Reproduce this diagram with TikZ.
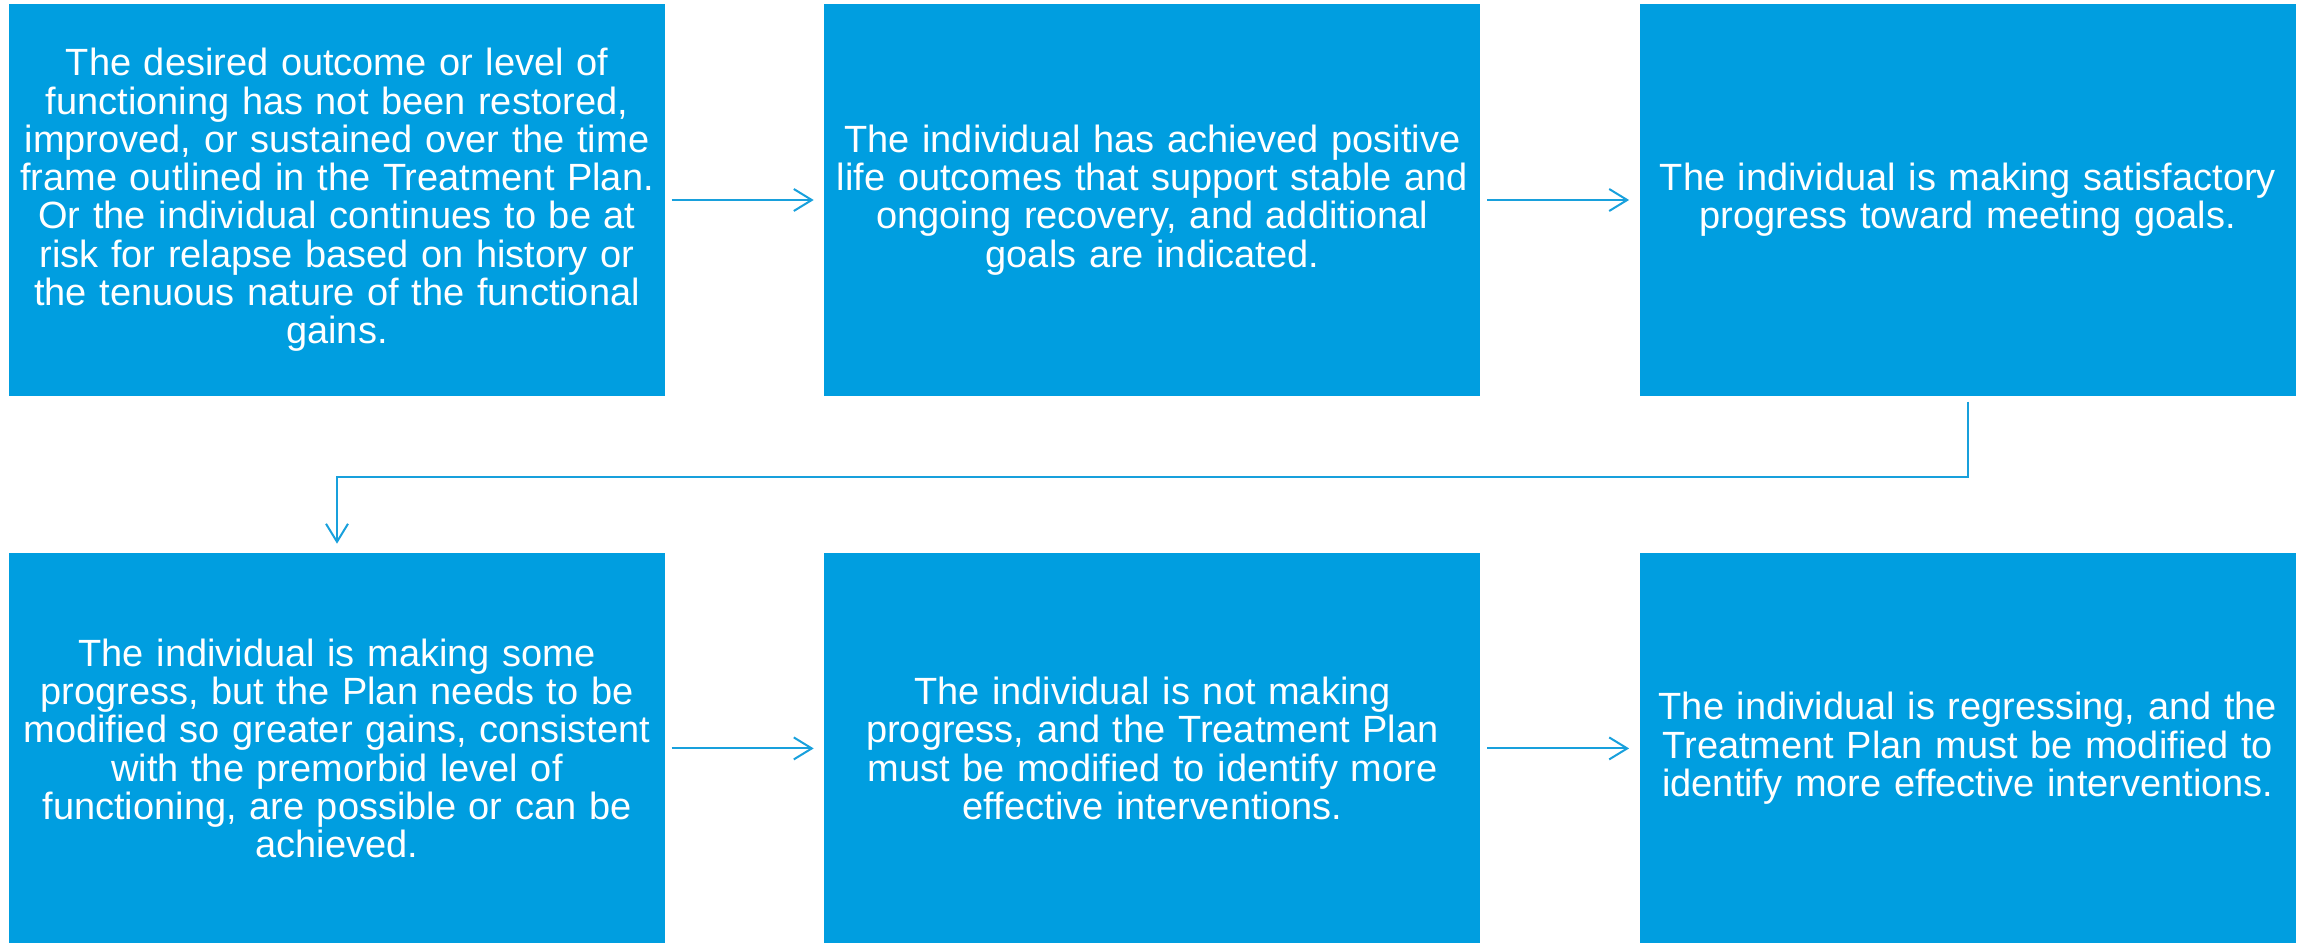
\documentclass[tikz,border=0pt]{standalone}
\usepackage{fontspec}
\setmainfont{Liberation Sans}
\usetikzlibrary{positioning,arrows.meta}

\begin{document}
\begin{tikzpicture}[
  box/.style={fill=boxblue, text=white, minimum width=\boxw cm, minimum height=\boxh cm,
    text width=6.5cm, inner sep=0.03cm, align=center,
    font=\fontsize{10.8}{10.9}\selectfont},
  link/.style={draw=lineblue, line width=0.02cm,
    -{Straight Barb[length=0.18cm, width=0.22cm, line width=0.02cm]}}
]

\def\boxw{6.56}
\def\boxh{3.92}
\def\gap{1.58}
\definecolor{boxblue}{RGB}{0,158,224}
\definecolor{lineblue}{RGB}{24,160,220}

\useasboundingbox (0,0) rectangle (23.03,-9.44);

% top row
\node[box] (outcome) at (3.37,-2.0) {The desired outcome or level of\\
  functioning has not been restored,\\
  improved, or sustained over the time\\
  frame outlined in the Treatment Plan.\\
  Or the individual continues to be at\\
  risk for relapse based on history or\\
  the tenuous nature of the functional\\
  gains.};
\node[box, right=\gap cm of outcome] (recovery) {The individual has achieved positive\\
  life outcomes that support stable and\\
  ongoing recovery, and additional\\
  goals are indicated.};
\node[box, right=\gap cm of recovery] (satisfactory) {The individual is making satisfactory\\
  progress toward meeting goals.};

% bottom row
\node[box, below=1.56cm of outcome, minimum height=3.9cm] (someprogress) {The individual is making some\\
  progress, but the Plan needs to be\\
  modified so greater gains, consistent\\
  with the premorbid level of\\
  functioning, are possible or can be\\
  achieved.};
\node[box, right=\gap cm of someprogress, minimum height=3.9cm] (noprogress) {The individual is not making\\
  progress, and the Treatment Plan\\
  must be modified to identify more\\
  effective interventions.};
\node[box, right=\gap cm of noprogress, minimum height=3.9cm] (regressing) {The individual is regressing, and the\\
  Treatment Plan must be modified to\\
  identify more effective interventions.};

\draw[link, shorten <=0.06cm, shorten >=0.1cm] (outcome) -- (recovery);
\draw[link, shorten <=0.06cm, shorten >=0.1cm] (recovery) -- (satisfactory);
\draw[link, shorten <=0.06cm, shorten >=0.1cm] (someprogress) -- (noprogress);
\draw[link, shorten <=0.06cm, shorten >=0.1cm] (noprogress) -- (regressing);

% elbow down to the second row
\coordinate (turn) at ([yshift=-0.8cm]satisfactory.south);
\draw[link, shorten <=0.05cm, shorten >=0.09cm] (satisfactory.south) -- (turn) -| (someprogress.north);

\end{tikzpicture}
\end{document}
